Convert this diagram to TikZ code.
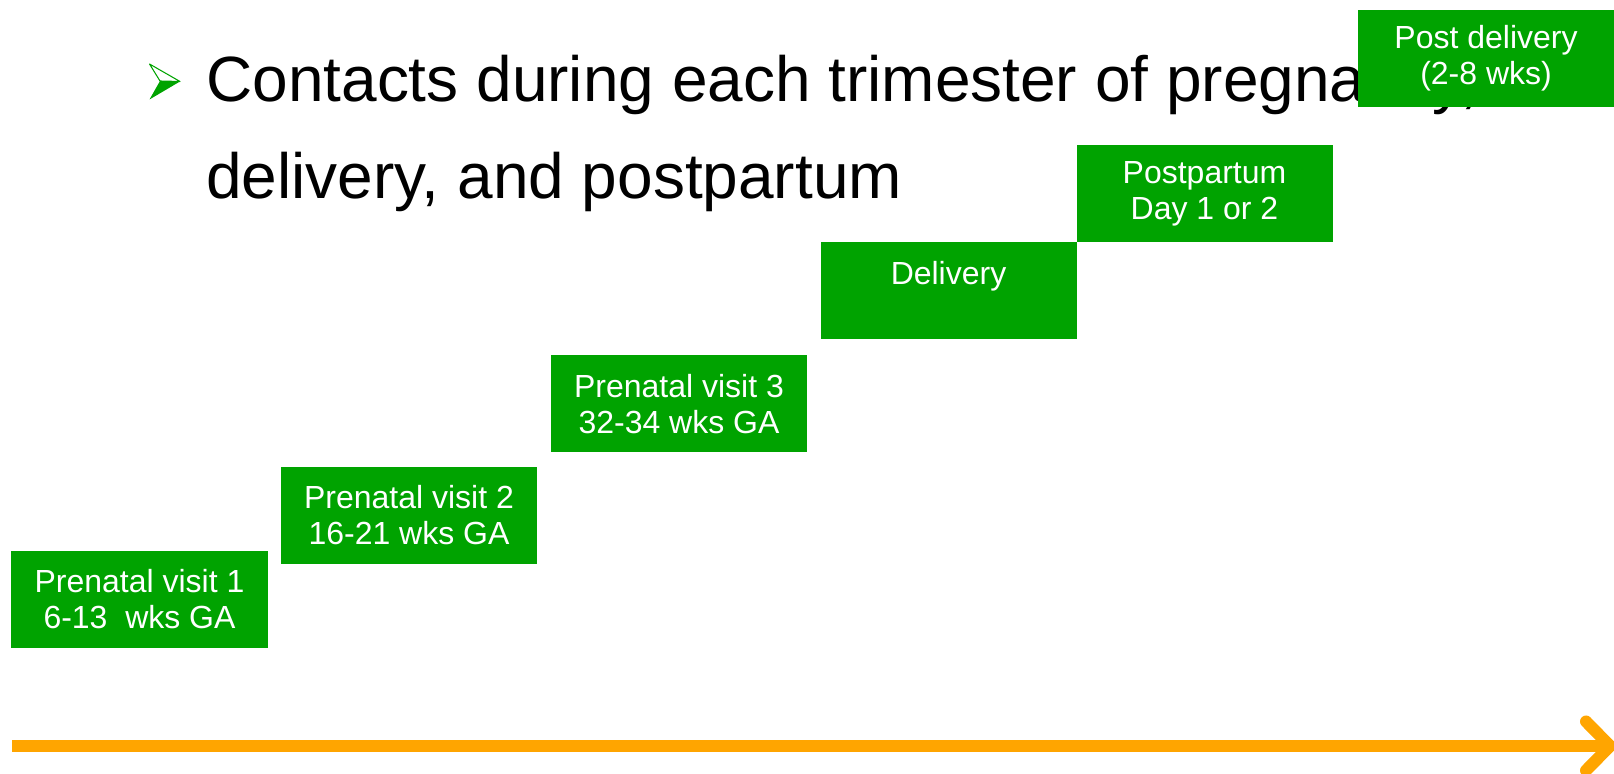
\documentclass[tikz,border=0pt]{standalone}
\usepackage{fontspec}
\setmainfont{Liberation Sans}
\usetikzlibrary{arrows.meta}
\definecolor{visitgreen}{RGB}{0,163,0}
\definecolor{lineorange}{RGB}{255,165,0}
\tikzset{
    visit/.style={rectangle,fill=visitgreen,text=white,minimum width=5.12cm,minimum height=1.94cm,inner sep=0pt,align=center,font=\fontsize{18.2pt}{20.5pt}\selectfont},
    headline/.style={anchor=base west,inner sep=0pt,font=\fontsize{36.4pt}{44pt}\selectfont}
}

\begin{document}
\begin{tikzpicture}
        \useasboundingbox (0,0) rectangle (32.28,15.48);

        \node[headline] (T1) at (4.12,13.44) {Contacts during each trimester of pregnancy,};
        \node[headline] (T2) at (4.12,11.50) {delivery, and postpartum};

        \fill[visitgreen] (3.20,13.86) -- (3.60,13.85) -- (2.99,13.49) -- cycle;
        \draw[visitgreen,line width=0.6pt,line join=round] (2.99,14.20) -- (3.60,13.85) -- (3.20,13.86) -- cycle;

        \node[visit] (V1) at (2.79,3.49) {Prenatal visit 1\\6-13\ \ wks GA};
        \node[visit] (V2) at (8.18,5.17) {Prenatal visit 2\\16-21 wks GA};
        \node[visit] (V3) at (13.58,7.40) {Prenatal visit 3\\32-34 wks GA};
        \node[visit] (D) at (18.97,9.66) {Delivery\\\mbox{}};
        \node[visit] (PP) at (24.09,11.60) {Postpartum\\Day 1 or 2};
        \node[visit] (PD) at (29.72,14.31) {Post delivery\\(2-8 wks)};

        \coordinate (A0) at (0.24,0.56);
        \coordinate (A1) at (32.32,0.56);
        \draw[lineorange,line width=0.24cm,-{Straight Barb[length=0.48cm,width=0.98cm,round]}] (A0) -- (A1);

    \end{tikzpicture}
\end{document}
